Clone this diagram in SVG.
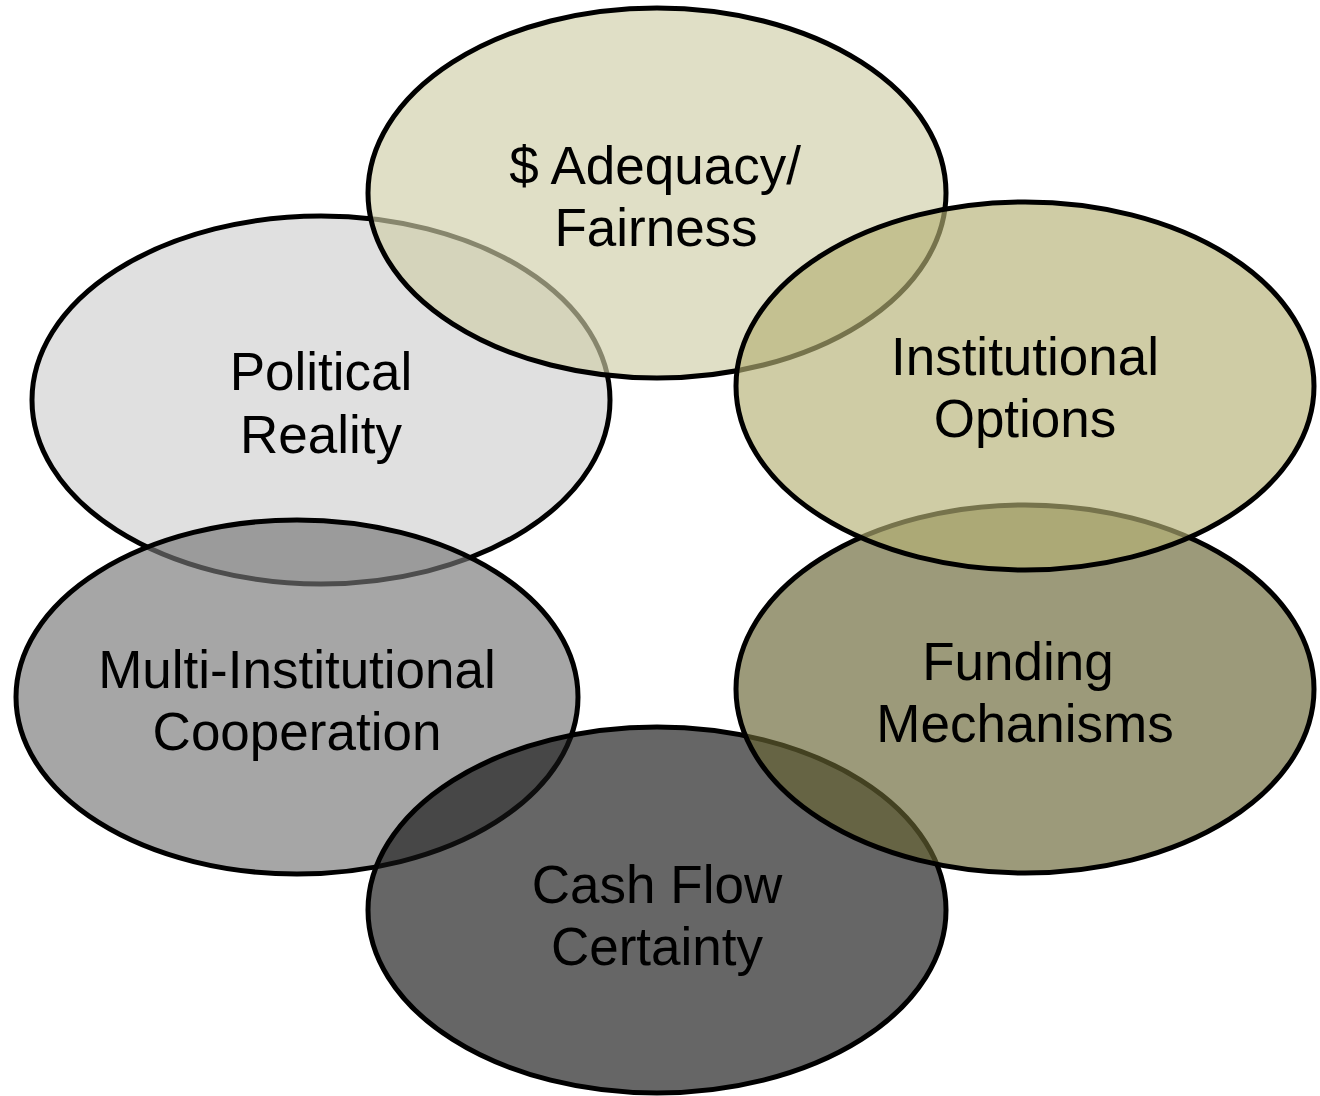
<svg xmlns="http://www.w3.org/2000/svg" width="1320" height="1096" viewBox="0 0 1320 1096">
<style>
.node ellipse { stroke: #000000; stroke-width: 5; fill-opacity: 0.65; }
.node text { font-family: "Liberation Sans", Arial, sans-serif; font-size: 53px; fill: #000000; text-anchor: middle; }
</style>
<rect x="0" y="0" width="1320" height="1096" fill="#ffffff"/>
<g id="connectors"></g>
<g id="political-reality" class="node">
  <ellipse cx="321" cy="400" rx="289" ry="184" fill="#cfcfcf"/>
  <text x="321" y="390">Political</text>
  <text x="321" y="453">Reality</text>
</g>
<g id="multi-institutional-cooperation" class="node">
  <ellipse cx="297" cy="697" rx="281" ry="177" fill="#767676"/>
  <text x="297" y="688">Multi-Institutional</text>
  <text x="297" y="750">Cooperation</text>
</g>
<g id="cash-flow-certainty" class="node">
  <ellipse cx="657" cy="910" rx="289" ry="183" fill="#141414"/>
  <text x="657" y="903">Cash Flow</text>
  <text x="657" y="965">Certainty</text>
</g>
<g id="funding-mechanisms" class="node">
  <ellipse cx="1025" cy="689" rx="289" ry="184" fill="#676432"/>
  <text x="1018" y="680">Funding</text>
  <text x="1025" y="742">Mechanisms</text>
</g>
<g id="adequacy-fairness" class="node">
  <ellipse cx="657" cy="193" rx="289" ry="185" fill="#cfcea7"/>
  <text x="655" y="184">$ Adequacy/</text>
  <text x="656" y="246">Fairness</text>
</g>
<g id="institutional-options" class="node">
  <ellipse cx="1025" cy="386" rx="289" ry="184" fill="#b5b174"/>
  <text x="1025" y="375">Institutional</text>
  <text x="1025" y="437">Options</text>
</g>
</svg>
